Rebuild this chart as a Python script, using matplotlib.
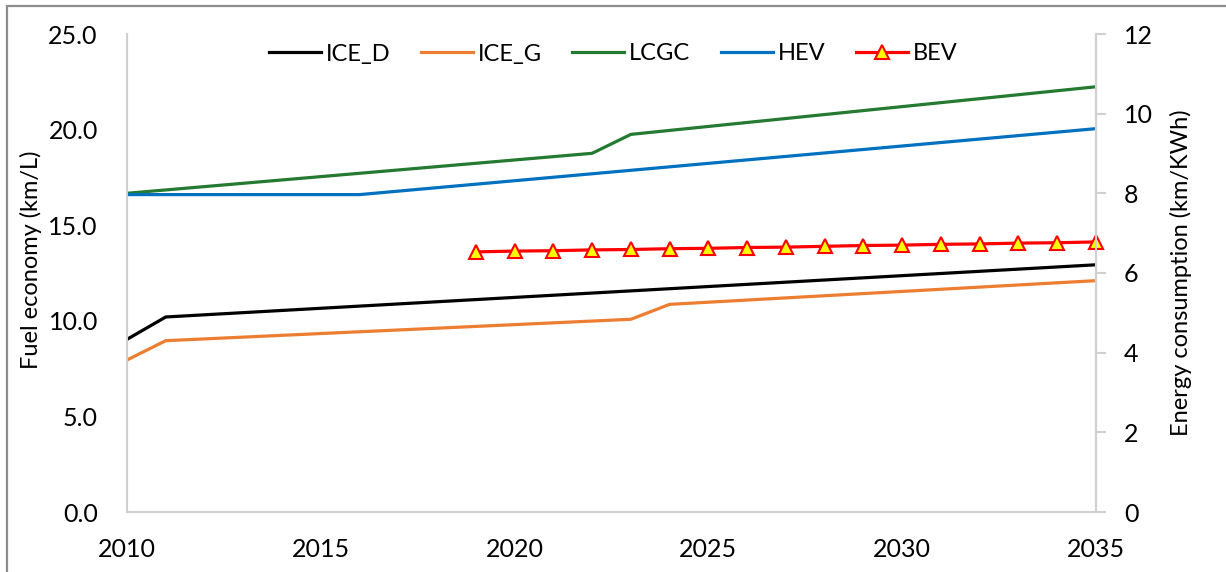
import matplotlib
matplotlib.use("Agg")
import matplotlib.pyplot as plt
from matplotlib.patches import Rectangle
from matplotlib.ticker import FormatStrFormatter, MultipleLocator

plt.rcParams['font.family'] = ['Lato', 'DejaVu Sans']

# Fuel economy (km/L), breakpoints of each series
ice_d_years = [2010, 2011, 2035]
ice_d_vals = [9.03, 10.2, 12.93]

ice_g_years = [2010, 2011, 2023, 2024, 2035]
ice_g_vals = [7.95, 8.96, 10.08, 10.86, 12.10]

lcgc_years = [2010, 2022, 2023, 2035]
lcgc_vals = [16.67, 18.76, 19.75, 22.24]

hev_years = [2010, 2016, 2035]
hev_vals = [16.6, 16.6, 20.05]

# Energy consumption (km/kWh)
bev_years = [2019, 2020, 2021, 2022, 2023, 2024, 2025, 2026, 2027,
             2028, 2029, 2030, 2031, 2032, 2033, 2034, 2035]
bev_vals = [6.53, 6.55, 6.56, 6.58, 6.59, 6.61, 6.62, 6.64, 6.65,
            6.67, 6.69, 6.70, 6.72, 6.73, 6.75, 6.76, 6.78]

W, H = 1226, 572
fig = plt.figure(figsize=(W / 100, H / 100), dpi=100)

# chart-area frame
fig.patches.append(Rectangle((7 / W, -0.2), 1.2, 1.2 - 6 / H,
                             transform=fig.transFigure, fill=False,
                             edgecolor='#8c8c8c', linewidth=1.6))

ax = fig.add_axes([127 / W, 1 - 512 / H, (1096 - 127) / W, (512 - 34) / H])
ax2 = ax.twinx()

lw = 2.3
ax.plot(ice_d_years, ice_d_vals, color='black', lw=lw, label='ICE_D')
ax.plot(ice_g_years, ice_g_vals, color='#ED7D31', lw=lw, label='ICE_G')
ax.plot(lcgc_years, lcgc_vals, color='#237A30', lw=lw, label='LCGC')
ax.plot(hev_years, hev_vals, color='#0070C0', lw=lw, label='HEV')
ax2.plot(bev_years, bev_vals, color='#FF0000', lw=lw, marker='^',
         markersize=10, markerfacecolor='#FFFF00', markeredgecolor='#FF0000',
         markeredgewidth=1.5, label='BEV', clip_on=False)

ax.set_xlim(2010, 2035)
ax.set_ylim(0, 25)
ax2.set_ylim(0, 12)
ax.xaxis.set_major_locator(MultipleLocator(5))
ax.yaxis.set_major_locator(MultipleLocator(5))
ax.yaxis.set_major_formatter(FormatStrFormatter('%.1f'))
ax2.yaxis.set_major_locator(MultipleLocator(2))

spine_c = '#D0D0D0'
for a in (ax, ax2):
    for s in a.spines.values():
        s.set_color(spine_c)
        s.set_linewidth(1.5)
    a.spines['top'].set_visible(False)
ax2.spines['left'].set_visible(False)
ax2.spines['bottom'].set_visible(False)

fs = 18
ax.tick_params(axis='x', length=0, pad=19, labelsize=fs)
ax.tick_params(axis='y', length=0, pad=21, labelsize=fs)
ax2.tick_params(axis='y', length=7, width=1.5, color=spine_c, pad=13,
                labelsize=fs)

ax.set_ylabel('Fuel economy (km/L)', fontsize=17)
ax.yaxis.set_label_coords(-0.088, 0.527)
ax2.set_ylabel('Energy consumption (km/KWh)', fontsize=17)
ax2.yaxis.set_label_coords(1.0764, 0.5)

h1, l1 = ax.get_legend_handles_labels()
h2, l2 = ax2.get_legend_handles_labels()
ax.legend(h1 + h2, l1 + l2, loc='center', bbox_to_anchor=(613 / W, 1 - 54 / H),
          bbox_transform=fig.transFigure, ncol=5, frameon=False,
          fontsize=17, handlelength=2.2, handletextpad=0.2,
          columnspacing=1.3, numpoints=1)

fig.savefig('out.png', dpi=100)
